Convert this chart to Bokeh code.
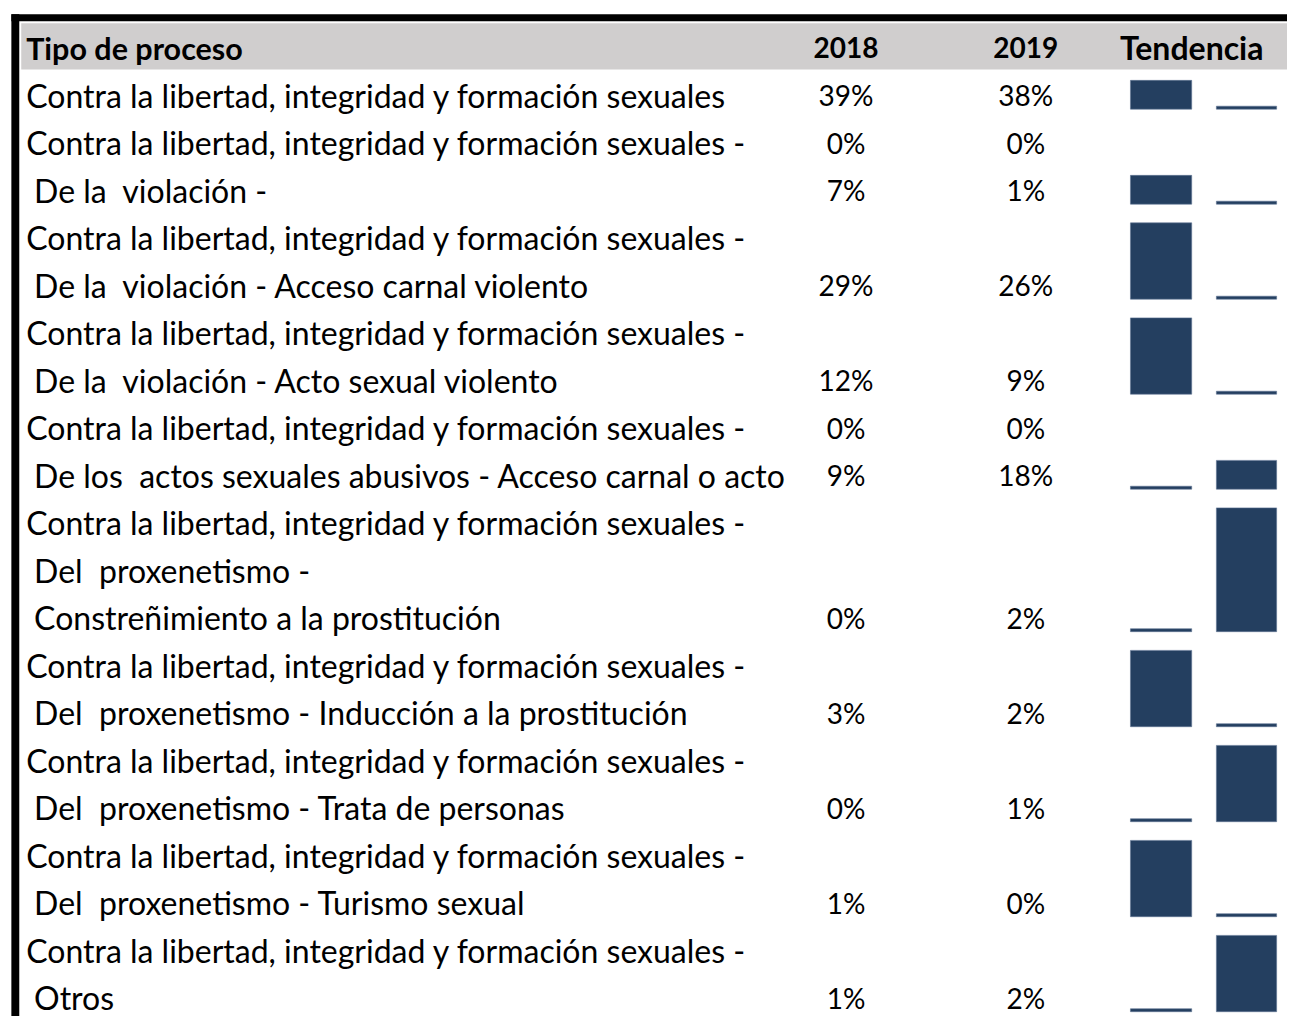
from bokeh.plotting import figure
from bokeh.models import Range1d, ColumnDataSource
from bokeh.core.properties import value
from bokeh.embed import file_html
from bokeh.resources import INLINE

# ---------------- data ----------------
col_headers = ["Tipo de proceso", "2018", "2019", "Tendencia"]
tipos = [
    "Contra la libertad, integridad y formación sexuales",
    "Contra la libertad, integridad y formación sexuales -",
    " De la  violación -",
    "Contra la libertad, integridad y formación sexuales -\n De la  violación - Acceso carnal violento",
    "Contra la libertad, integridad y formación sexuales -\n De la  violación - Acto sexual violento",
    "Contra la libertad, integridad y formación sexuales -",
    " De los  actos sexuales abusivos - Acceso carnal o acto",
    "Contra la libertad, integridad y formación sexuales -\n Del  proxenetismo -\n Constreñimiento a la prostitución",
    "Contra la libertad, integridad y formación sexuales -\n Del  proxenetismo - Inducción a la prostitución",
    "Contra la libertad, integridad y formación sexuales -\n Del  proxenetismo - Trata de personas",
    "Contra la libertad, integridad y formación sexuales -\n Del  proxenetismo - Turismo sexual",
    "Contra la libertad, integridad y formación sexuales -\n Otros",
]
v2018 = [39, 0, 7, 29, 12, 0, 9, 0, 3, 0, 1, 1]
v2019 = [38, 0, 1, 26, 9, 0, 18, 2, 2, 1, 0, 2]

# ---------------- layout / style ----------------
FONT = "Lato"
FSIZE = "32px"
HSIZE = "30.5px"
NSIZE = "28px"
PITCH = 48.25
Y0 = 48.0
TEXT_X = 26
INDENT = 8
X18, X19, XTEND = 856, 1038, 1206
BAR_SLOTS = ((1144, 1206), (1231, 1292))
BAR_COLOR = "#243F60"
GRAY = "#D0CECE"

p = figure(width=1287, height=1016, x_range=Range1d(0, 1303), y_range=Range1d(1032, 0),
           output_backend="svg", toolbar_location=None, min_border=0,
           x_axis_type=None, y_axis_type=None)
p.grid.visible = False
p.outline_line_color = None
p.background_fill_color = "white"
p.border_fill_color = "white"

# frame: black border + grey header band
p.quad(left=[11], right=[1303], top=[14], bottom=[21], fill_color="black", line_color=None)
p.quad(left=[11], right=[19], top=[14], bottom=[1040], fill_color="black", line_color=None)
p.quad(left=[21], right=[1303], top=[23], bottom=[70], fill_color=GRAY, line_color=None)

# header texts
p.text(x=[TEXT_X], y=[Y0], text=[col_headers[0]], text_font=value(FONT), text_font_size=HSIZE,
       text_font_style="bold", text_baseline="middle", text_align="left", text_color="black")
p.text(x=[XTEND], y=[Y0], text=[col_headers[3]], text_font=value(FONT), text_font_size=FSIZE,
       text_font_style="bold", text_baseline="middle", text_align="center", text_color="black")
hdr_src2 = ColumnDataSource(dict(x=[X18, X19], y=[Y0] * 2, t=col_headers[1:3]))
p.text(x="x", y="y", text="t", source=hdr_src2, text_font=value(FONT), text_font_size=NSIZE,
       text_font_style="bold", text_baseline="middle", text_align="center", text_color="black")

lab = dict(x=[], y=[], t=[])
pct = dict(y=[], a=[], b=[])
bars = dict(left=[], right=[], top=[], bottom=[])

k = 1
for label, a, b in zip(tipos, v2018, v2019):
    lines = label.split("\n")
    k0 = k
    for ln in lines:
        ind = INDENT if ln.startswith(" ") else 0
        lab["x"].append(TEXT_X + ind)
        lab["y"].append(Y0 + k * PITCH)
        lab["t"].append(ln.strip().replace("  ", " \u00a0"))
        k += 1
    k1 = k - 1
    pct["y"].append(Y0 + k1 * PITCH)
    pct["a"].append(f"{a}%")
    pct["b"].append(f"{b}%")
    top = Y0 + (k0 - 0.5) * PITCH + 9
    bot = Y0 + (k1 + 0.5) * PITCH - 10
    lo, hi = min(a, b), max(a, b)
    if hi > lo:
        for v, (l, r) in zip((a, b), BAR_SLOTS):
            h = 3 + (v - lo) / (hi - lo) * (bot - top - 3)
            bars["left"].append(l)
            bars["right"].append(r)
            bars["bottom"].append(bot)
            bars["top"].append(bot - h)

p.text(x="x", y="y", text="t", source=ColumnDataSource(lab), text_font=value(FONT),
       text_font_size=FSIZE, text_baseline="middle", text_align="left", text_color="black")

psrc = ColumnDataSource(dict(y=pct["y"], a=pct["a"], b=pct["b"],
                             xa=[X18] * len(pct["y"]), xb=[X19] * len(pct["y"])))
p.text(x="xa", y="y", text="a", source=psrc, text_font=value(FONT), text_font_size=NSIZE,
       text_baseline="middle", text_align="center", text_color="black")
p.text(x="xb", y="y", text="b", source=psrc, text_font=value(FONT), text_font_size=NSIZE,
       text_baseline="middle", text_align="center", text_color="black")

p.quad(left="left", right="right", top="top", bottom="bottom", source=ColumnDataSource(bars),
       fill_color=BAR_COLOR, line_color="#5f7594", line_width=0.6)

open("out.html", "w").write(file_html(p, INLINE))
